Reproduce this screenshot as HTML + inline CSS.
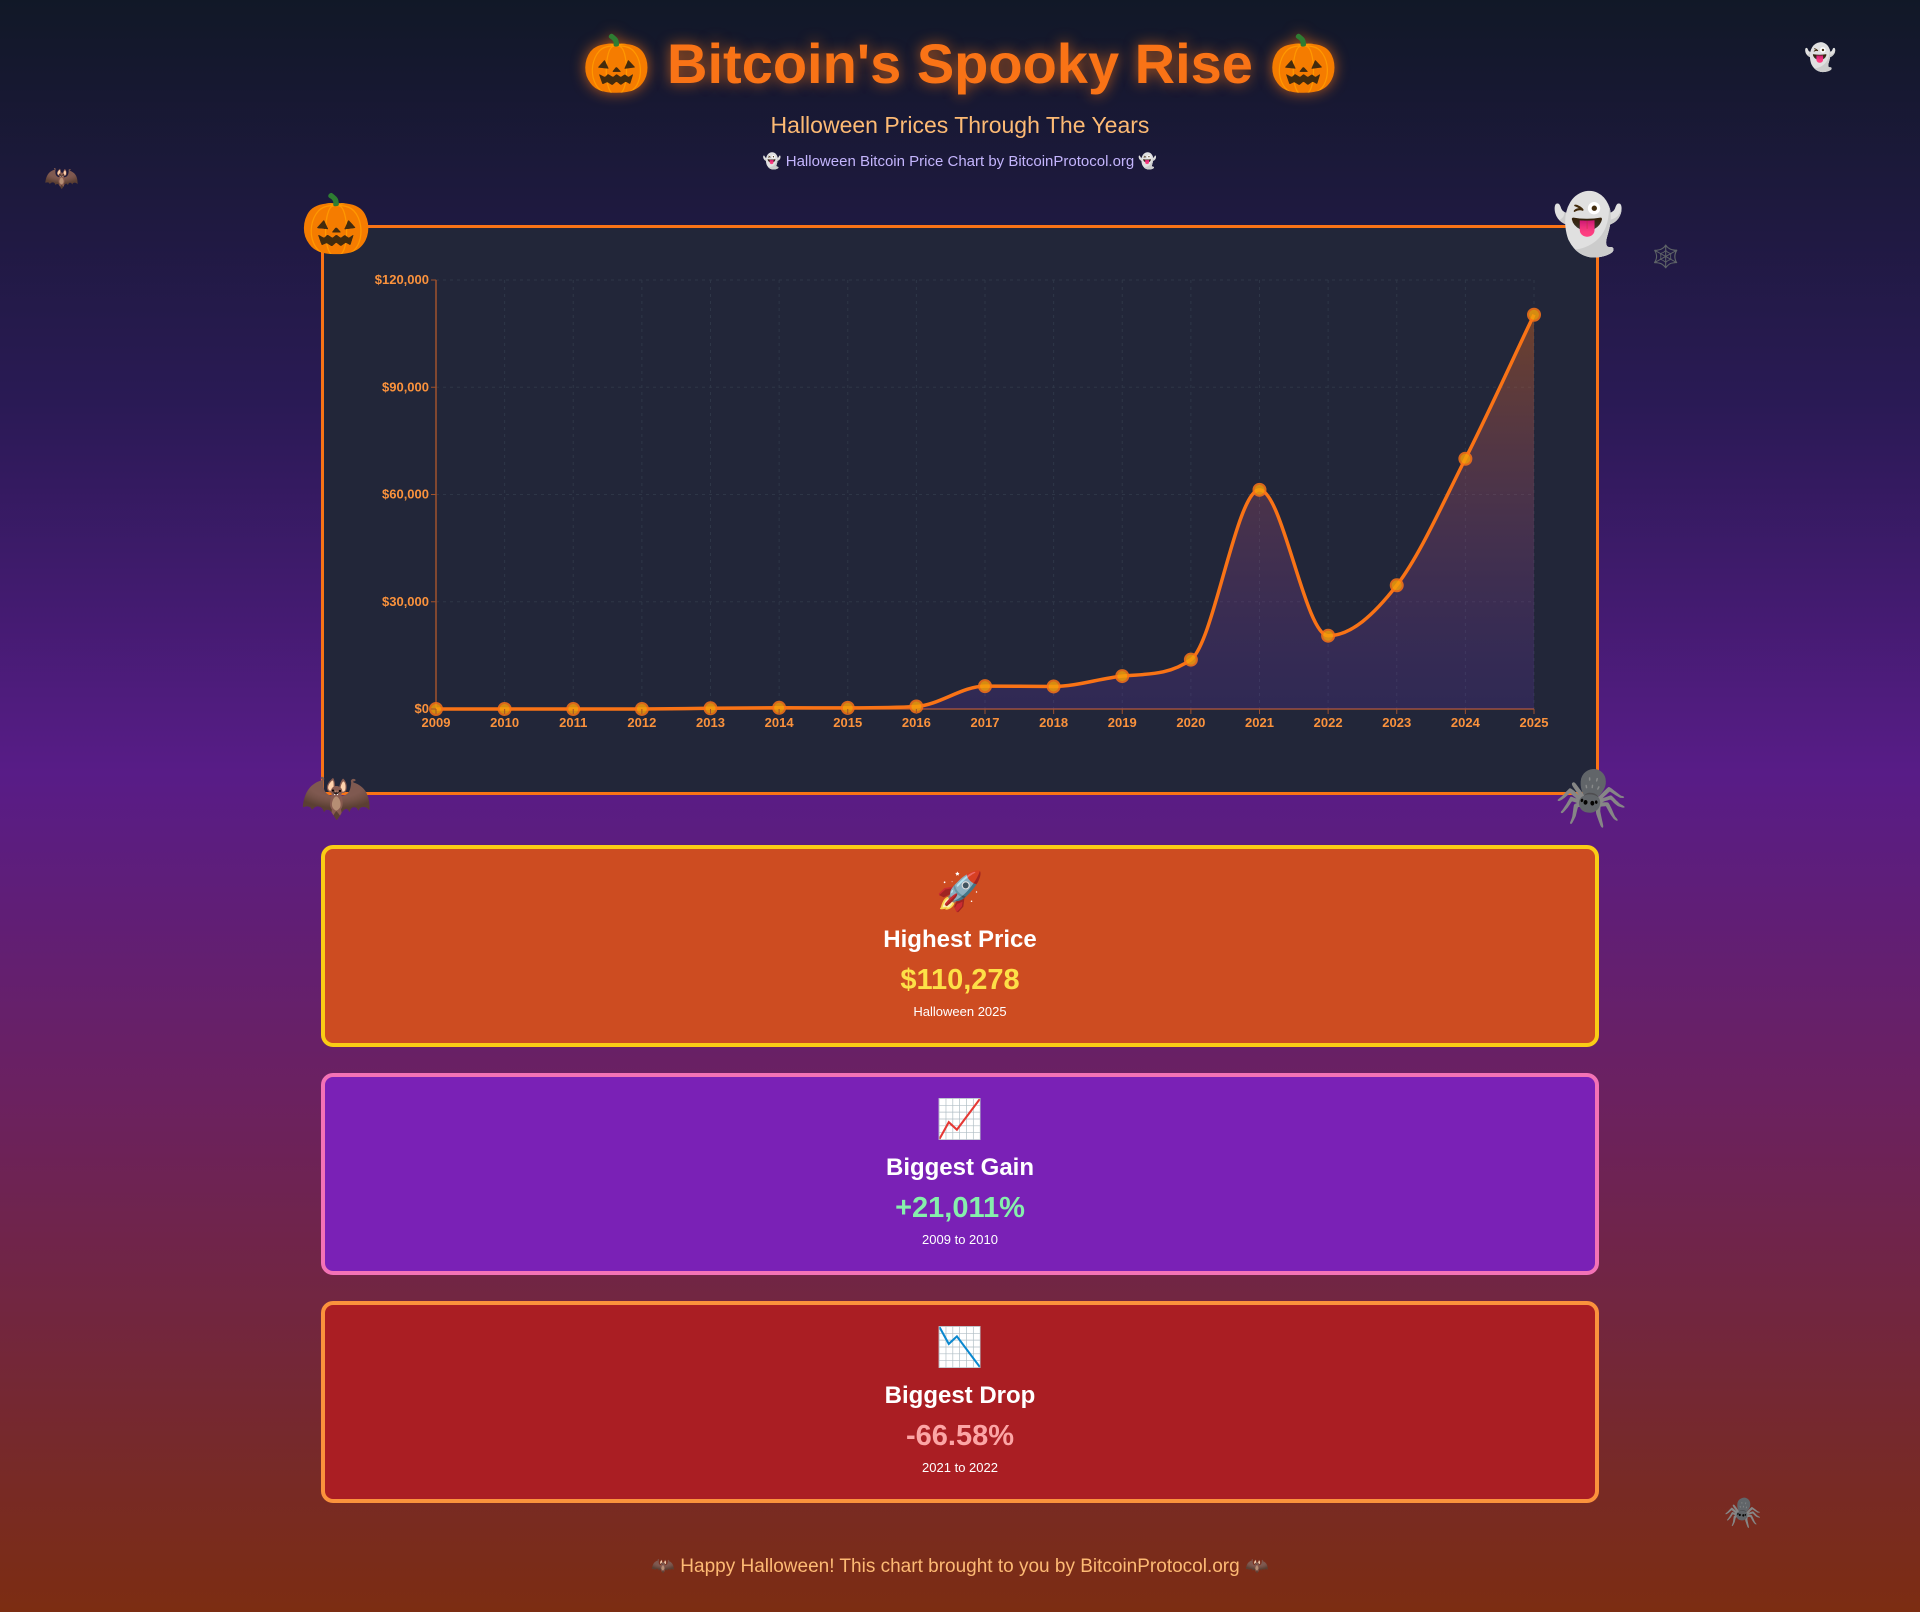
<!DOCTYPE html>
<html><head><meta charset="utf-8"><style>
html,body{margin:0;padding:0}
body{width:1920px;height:1612px;position:relative;overflow:hidden;background:linear-gradient(180deg,#111827 0%,#2a1a55 25%,#581c87 48%,#6b2160 68%,#7c2d12 100%);font-family:"Liberation Sans","DejaVu Sans",sans-serif;}
.abs{position:absolute;line-height:1}
.c{text-align:center;left:0;width:1920px}
h1{margin:0;position:absolute;top:36px;left:0;width:1920px;text-align:center;font-size:56px;color:#f97316;font-weight:bold;text-shadow:0 0 14px rgba(249,115,22,.7);line-height:1}
.card{position:absolute;left:321px;width:1270px;height:194px;border:4px solid;border-radius:12px;text-align:center;color:#fff}
.card .e{position:absolute;top:24px;left:0;width:100%;font-size:38px;line-height:1}
.card .t{position:absolute;top:77px;left:0;width:100%;font-size:24px;font-weight:bold}
.card .v{position:absolute;top:115px;left:0;width:100%;font-size:29px;font-weight:bold}
.card .s{position:absolute;top:155px;left:0;width:100%;font-size:13px}
</style></head><body>
<h1><span style="font-size:56px">🎃</span> Bitcoin's Spooky Rise <span style="font-size:56px">🎃</span></h1>
<div class="abs c" style="top:114px;font-size:23px;color:#fdba74">Halloween Prices Through The Years</div>
<div class="abs c" style="top:154px;font-size:15px;color:#c4b5fd">👻 Halloween Bitcoin Price Chart by BitcoinProtocol.org 👻</div>
<div class="abs" style="left:1804px;top:44px;font-size:26px">👻</div>
<div class="abs" style="left:44px;top:164px;font-size:28px">🦇</div>
<div class="abs" style="left:1652px;top:246px;font-size:22px">🕸️</div>
<div class="abs" style="left:1724px;top:1498px;font-size:30px">🕷️</div>

<div class="abs" style="left:321px;top:225px;width:1272px;height:564px;border:3px solid #f97316;background:#222639"></div>
<svg class="abs" style="left:0;top:0" width="1920" height="820" id="ch">
<defs><linearGradient id="g" x1="0" y1="0" x2="0" y2="1"><stop offset="0" stop-color="#f97316" stop-opacity=".35"/><stop offset="1" stop-color="#7c3aed" stop-opacity=".15"/></linearGradient></defs>
<g id="grid" stroke="#374151" stroke-dasharray="3,4" stroke-width="1" opacity=".6"></g>
<line x1="436" y1="280" x2="436" y2="709" stroke="#a0522d" stroke-width="1.5"/>
<line x1="436" y1="709" x2="1534" y2="709" stroke="#a0522d" stroke-width="1.5"/>
<path id="area" fill="url(#g)"/>
<path id="line" fill="none" stroke="#f97316" stroke-width="3.5"/>
<g id="pts"></g>
<g id="lbl" font-family="Liberation Sans,sans-serif" font-weight="bold" font-size="13" fill="#fb923c"></g>
</svg>
<div class="abs" style="left:300px;top:196px;font-size:58px">🎃</div>
<div class="abs" style="left:1552px;top:196px;font-size:58px">👻</div>
<div class="abs" style="left:300px;top:768px;font-size:58px">🦇</div>
<div class="abs" style="left:1555px;top:768px;font-size:58px">🕷️</div>

<div class="card" style="top:845px;background:#cd4c21;border-color:#facc15"><div class="e">🚀</div><div class="t">Highest Price</div><div class="v" style="color:#fde047">$110,278</div><div class="s">Halloween 2025</div></div>
<div class="card" style="top:1073px;background:#7a21b6;border-color:#f472b6"><div class="e">📈</div><div class="t">Biggest Gain</div><div class="v" style="color:#86efac">+21,011%</div><div class="s">2009 to 2010</div></div>
<div class="card" style="top:1301px;background:#aa1e23;border-color:#fb923c"><div class="e">📉</div><div class="t">Biggest Drop</div><div class="v" style="color:#fca5a5">-66.58%</div><div class="s">2021 to 2022</div></div>
<div class="abs c" style="top:1557px;font-size:19px;color:#fdba74">🦇 Happy Halloween! This chart brought to you by BitcoinProtocol.org 🦇</div>
<script>
var vals=[0.3,0.3,3,11,200,340,315,700,6400,6300,9200,13800,61300,20500,34600,70000,110278];
var X=function(i){return 436+i*68.625},Y=function(v){return 709-v/120000*429};
var ns="http://www.w3.org/2000/svg",grid=document.getElementById('grid'),lbl=document.getElementById('lbl'),pts=document.getElementById('pts');
function el(t,a,p){var e=document.createElementNS(ns,t);for(var k in a)e.setAttribute(k,a[k]);p.appendChild(e);return e}
[0,30000,60000,90000,120000].forEach(function(v){var y=Y(v);if(v)el('line',{x1:436,x2:1534,y1:y,y2:y},grid);el('line',{x1:431,x2:436,y1:y,y2:y,stroke:'#a0522d'},lbl);var t=el('text',{x:429,y:y+4,'text-anchor':'end'},lbl);t.textContent=v?'$'+v.toLocaleString('en-US'):'$0';});
var P=vals.map(function(v,i){return[X(i),Y(v)]});
for(var i=0;i<P.length;i++){if(i)el('line',{x1:P[i][0],x2:P[i][0],y1:280,y2:709},grid);el('line',{x1:P[i][0],x2:P[i][0],y1:709,y2:714,stroke:'#a0522d'},lbl);var t=el('text',{x:P[i][0],y:727,'text-anchor':'middle'},lbl);t.textContent=2009+i;}
var n=P.length,d=[],m=[];for(i=0;i<n-1;i++)d.push((P[i+1][1]-P[i][1])/(P[i+1][0]-P[i][0]));
m[0]=d[0];m[n-1]=d[n-2];for(i=1;i<n-1;i++){m[i]=(d[i-1]*d[i]<=0)?0:(d[i-1]+d[i])/2;}
for(i=0;i<n-1;i++){if(d[i]==0){m[i]=m[i+1]=0;continue}var a=m[i]/d[i],b=m[i+1]/d[i],s=a*a+b*b;if(s>9){var tt=3/Math.sqrt(s);m[i]=tt*a*d[i];m[i+1]=tt*b*d[i];}}
var s='M'+P[0][0]+','+P[0][1];for(i=0;i<n-1;i++){var h=(P[i+1][0]-P[i][0])/3;s+='C'+(P[i][0]+h)+','+(P[i][1]+m[i]*h)+' '+(P[i+1][0]-h)+','+(P[i+1][1]-m[i+1]*h)+' '+P[i+1][0]+','+P[i+1][1];}
document.getElementById('line').setAttribute('d',s);
document.getElementById('area').setAttribute('d',s+'L1534,709L436,709Z');
P.forEach(function(p){el('circle',{cx:p[0],cy:p[1],r:6,fill:'#f59e0b',stroke:'#f97316','stroke-width':2,opacity:.85},pts)});
</script>
</body></html>
